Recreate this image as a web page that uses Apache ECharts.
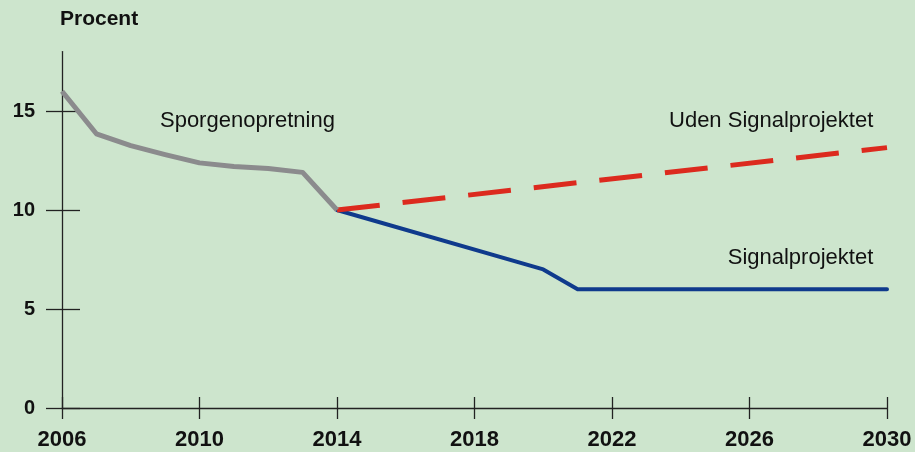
<!DOCTYPE html>
<html>
<head>
<meta charset="utf-8">
<script src="https://cdn.jsdelivr.net/npm/echarts@6/dist/echarts.min.js"></script>
<style>
html,body{margin:0;padding:0;background:#cde5cd;}
#c{width:915px;height:452px;}
</style>
</head>
<body>
<div id="c"></div>
<script>
const yearTicks = [2006, 2010, 2014, 2018, 2022, 2026, 2030];
const valueTicks = [0, 5, 10, 15];

const sporYears = [2006, 2007, 2008, 2009, 2010, 2011, 2012, 2013, 2014];
const sporValues = [16, 13.85, 13.25, 12.8, 12.38, 12.2, 12.1, 11.9, 10];

const signalYears = [2014, 2020, 2021, 2030];
const signalValues = [10, 7, 6, 6];

const udenYears = [2014, 2030];
const udenValues = [10, 13.15];

const labelTexts = ['Sporgenopretning', 'Uden Signalprojektet', 'Signalprojektet'];

const pairs = (xs, ys) => xs.map((x, i) => [x, ys[i]]);

const FONT = '"Liberation Sans", Arial, Helvetica, sans-serif';
const chart = echarts.init(document.getElementById('c'));

chart.setOption({
  backgroundColor: '#cde5cd',
  animation: false,
  grid: {left: 62, right: 28, top: 51.6, bottom: 44, containLabel: false},
  xAxis: [{
    type: 'value', min: 2006, max: 2030,
    axisLine: {show: true, onZero: false, lineStyle: {color: '#222', width: 1.3}},
    axisTick: {show: true, length: 11, customValues: yearTicks, lineStyle: {color: '#222', width: 1.3}},
    axisLabel: {customValues: yearTicks, margin: 21, formatter: v => String(v),
      fontFamily: FONT, fontWeight: 'bold', fontSize: 22, color: '#111'},
    splitLine: {show: false}
  }, {
    type: 'value', min: 2006, max: 2030, position: 'bottom',
    axisLine: {show: false},
    axisTick: {show: true, inside: true, length: 11, customValues: yearTicks, lineStyle: {color: '#222', width: 1.3}},
    axisLabel: {show: false},
    splitLine: {show: false}
  }],
  yAxis: [{
    type: 'value', min: 0, max: 18,
    name: 'Procent', nameLocation: 'end', nameGap: 22,
    nameTextStyle: {fontFamily: FONT, fontWeight: 'bold', fontSize: 21, color: '#111', align: 'left', padding: [0, 0, 0, -2]},
    axisLine: {show: true, onZero: false, lineStyle: {color: '#222', width: 1.3}},
    axisTick: {show: true, length: 16, customValues: valueTicks, lineStyle: {color: '#222', width: 1.3}},
    axisLabel: {customValues: valueTicks, margin: 27,
      fontFamily: FONT, fontWeight: 'bold', fontSize: 20, color: '#111'},
    splitLine: {show: false}
  }, {
    type: 'value', min: 0, max: 18, position: 'left',
    axisLine: {show: false},
    axisTick: {show: true, inside: true, length: 18, customValues: valueTicks, lineStyle: {color: '#222', width: 1.3}},
    axisLabel: {show: false},
    splitLine: {show: false}
  }],
  series: [{
    type: 'line', data: pairs(signalYears, signalValues), symbol: 'none',
    lineStyle: {color: '#0f3a8c', width: 4, cap: 'round', join: 'round'}, z: 3
  }, {
    type: 'line', data: pairs(udenYears, udenValues), symbol: 'none',
    lineStyle: {color: '#dc2a1e', width: 5, type: [43, 23]}, z: 4
  }, {
    type: 'line', data: pairs(sporYears, sporValues), symbol: 'none',
    lineStyle: {color: '#8b8b8d', width: 5, cap: 'butt', join: 'round'}, z: 5
  }]
});

const p1 = chart.convertToPixel({gridIndex: 0}, [2008.85, 14.5]);
const p2 = chart.convertToPixel({gridIndex: 0}, [2029.6, 14.5]);
const p3 = chart.convertToPixel({gridIndex: 0}, [2029.6, 7.6]);
const txt = (p, s, align) => ({
  type: 'text', x: p[0], y: p[1],
  style: {text: s, fill: '#111', font: '22px ' + FONT, textAlign: align, textVerticalAlign: 'middle'}
});
chart.setOption({graphic: [
  txt(p1, labelTexts[0], 'left'),
  txt(p2, labelTexts[1], 'right'),
  txt(p3, labelTexts[2], 'right')
]});
</script>
</body>
</html>
